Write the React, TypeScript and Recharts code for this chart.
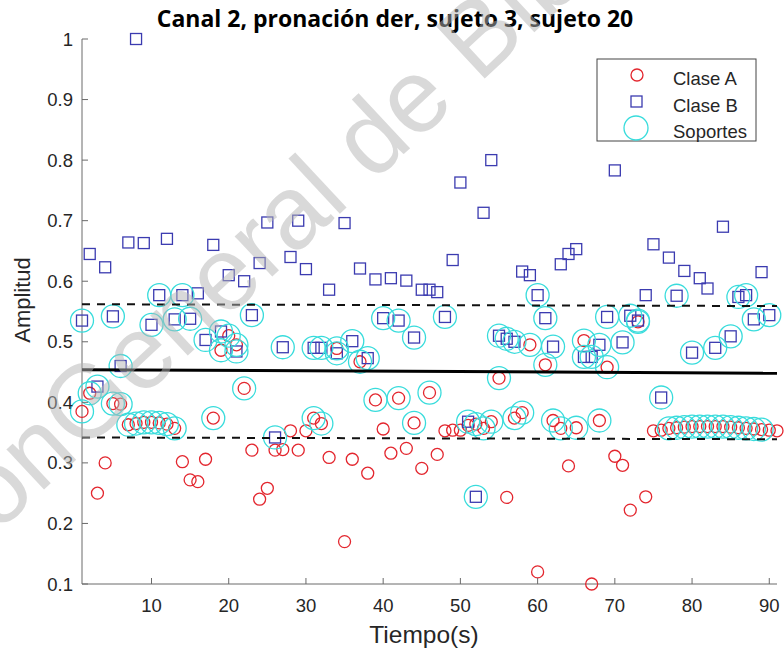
import React from 'react';
import { ScatterChart, Scatter, XAxis, YAxis } from 'recharts';

// ---------- data ----------
const tiempoA = [1,2,3,4,5,6,7,8,9,10,11,12,13,14,15,16,17,18,19,20,21,22,23,24,25,26,27,28,29,30,31,32,33,34,35,36,37,38,39,40,41,42,43,44,45,46,47,48,49,50,51,52,53,54,55,56,57,58,59,60,61,62,63,64,65,66,67,68,69,70,71,72,73,74,75,76,77,78,79,80,81,82,83,84,85,86,87,88,89,90,91];
const amplitudA = [0.385,0.415,0.250,0.300,0.398,0.397,0.363,0.365,0.367,0.367,0.366,0.364,0.357,0.302,0.272,0.269,0.306,0.374,0.486,0.510,0.495,0.423,0.321,0.240,0.258,0.321,0.322,0.353,0.321,0.353,0.374,0.365,0.309,0.489,0.170,0.306,0.467,0.283,0.404,0.356,0.316,0.407,0.324,0.366,0.291,0.416,0.314,0.353,0.354,0.354,0.362,0.364,0.357,0.368,0.440,0.243,0.374,0.383,0.495,0.120,0.462,0.370,0.357,0.295,0.358,0.502,0.100,0.370,0.458,0.311,0.296,0.222,0.533,0.244,0.353,0.354,0.357,0.358,0.359,0.360,0.360,0.360,0.360,0.360,0.359,0.358,0.357,0.356,0.355,0.354,0.353];

const tiempoB = [1,2,3,4,5,6,7,8,9,10,11,12,13,14,15,16,17,18,19,20,21,22,23,24,25,26,27,28,29,30,31,32,33,34,35,36,37,38,39,40,41,42,43,44,45,46,47,48,49,50,51,52,53,54,55,56,57,58,59,60,61,62,63,64,65,66,67,68,69,70,71,72,73,74,75,76,77,78,79,80,81,82,83,84,85,86,87,88,89,90];
const amplitudB = [0.535,0.645,0.426,0.623,0.542,0.460,0.664,1.000,0.663,0.528,0.577,0.670,0.537,0.577,0.538,0.580,0.503,0.660,0.517,0.610,0.484,0.600,0.544,0.630,0.697,0.342,0.491,0.640,0.700,0.620,0.490,0.490,0.586,0.481,0.696,0.501,0.621,0.473,0.603,0.539,0.605,0.535,0.601,0.507,0.586,0.586,0.582,0.541,0.635,0.763,0.368,0.244,0.713,0.800,0.510,0.505,0.500,0.616,0.610,0.577,0.539,0.492,0.628,0.645,0.653,0.475,0.475,0.495,0.541,0.783,0.499,0.543,0.535,0.577,0.661,0.408,0.639,0.576,0.617,0.482,0.605,0.588,0.490,0.690,0.509,0.574,0.577,0.537,0.615,0.544];

// times whose point is a support vector
const soportesTiempoA = [1,2,5,6,7,8,9,10,11,12,13,18,19,20,21,22,31,32,34,37,39,42,44,46,52,53,54,55,57,58,59,61,62,63,65,66,68,69,73,77,78,79,80,81,82,83,84,85,86,87,88,89];
const soportesTiempoB = [1,3,5,6,10,11,13,14,15,17,19,21,23,26,27,31,32,34,36,38,40,42,44,48,51,52,55,56,57,60,61,62,66,67,68,69,71,72,73,76,78,80,83,85,86,87,88,90];

// decision boundary and margins (ends at t = 1 and t = 91)
const lineaTiempo = [1, 91];
const lineaCentro = [0.454, 0.448];
const lineaSup = [0.562, 0.559];
const lineaInf = [0.342, 0.339];

const xTicks = [10, 20, 30, 40, 50, 60, 70, 80, 90];
const yTicks = [0.1, 0.2, 0.3, 0.4, 0.5, 0.6, 0.7, 0.8, 0.9, 1];

const legendItems = ['Clase A', 'Clase B', 'Soportes'];

// ---------- derived tables ----------
const claseA = tiempoA.map((x, i) => ({ x, y: amplitudA[i] }));
const claseB = tiempoB.map((x, i) => ({ x, y: amplitudB[i] }));
const soportes = [
  ...claseA.filter((p) => soportesTiempoA.includes(p.x)),
  ...claseB.filter((p) => soportesTiempoB.includes(p.x)),
];
const mkLine = (vals: number[]) => lineaTiempo.map((x, i) => ({ x, y: vals[i] }));
const centro = mkLine(lineaCentro);
const sup = mkLine(lineaSup);
const inf = mkLine(lineaInf);

// ---------- style ----------
const W = 784;
const H = 654;
const RED = '#e3262e';
const BLUE = '#3b3bb0';
const CYAN = '#38dcdc';
const AXIS = '#6a6a6a';
const TXT = '#262626';
const FONT = '"Liberation Sans", Arial, sans-serif';

const BottomTick = (p: any) => (
  <g>
    <line x1={p.x} y1={p.y} x2={p.x} y2={p.y - 6} stroke={AXIS} />
    <text x={p.x} y={p.y + 28} textAnchor="middle" fontSize={18.5} fontFamily={FONT} fill={TXT}>
      {p.payload.value}
    </text>
  </g>
);
const LeftTick = (p: any) => (
  <g>
    <line x1={p.x} y1={p.y} x2={p.x + 6} y2={p.y} stroke={AXIS} />
    <text x={p.x - 9} y={p.y + 6.5} textAnchor="end" fontSize={18.5} fontFamily={FONT} fill={TXT}>
      {p.payload.value === 1 ? '1' : Number(p.payload.value).toFixed(1)}
    </text>
  </g>
);
const TopTick = (p: any) => <line x1={p.x} y1={p.y} x2={p.x} y2={p.y + 6} stroke={AXIS} />;
const RightTick = (p: any) => <line x1={p.x} y1={p.y} x2={p.x - 6} y2={p.y} stroke={AXIS} />;

const RedCircle = (p: any) => (
  <circle cx={p.cx} cy={p.cy} r={6} fill="none" stroke={RED} strokeWidth={1.3} />
);
const BlueSquare = (p: any) => (
  <rect x={p.cx - 5.5} y={p.cy - 5.5} width={11} height={11} fill="none" stroke={BLUE} strokeWidth={1.3} />
);
const CyanCircle = (p: any) => (
  <circle cx={p.cx} cy={p.cy} r={11.5} fill="none" stroke={CYAN} strokeWidth={1.3} />
);
const NoShape = () => <g />;

export default function App() {
  return (
    <div style={{ position: 'absolute', left: 0, top: 0, width: W, height: H, background: '#fff' }}>
      <ScatterChart width={W} height={H} margin={{ top: 39, right: 7, bottom: 0, left: 0 }}>
        <XAxis
          dataKey="x"
          type="number"
          domain={[1, 91]}
          ticks={xTicks}
          interval={0}
          height={70}
          tickSize={0}
          tickMargin={0}
          tickLine={false}
          tick={<BottomTick />}
          axisLine={{ stroke: AXIS }}
        />
        <XAxis
          xAxisId="top"
          orientation="top"
          type="number"
          domain={[1, 91]}
          ticks={xTicks}
          interval={0}
          height={0}
          tickSize={0}
          tickMargin={0}
          tickLine={false}
          tick={<TopTick />}
          axisLine={{ stroke: AXIS }}
        />
        <YAxis
          dataKey="y"
          type="number"
          domain={[0.1, 1]}
          ticks={yTicks}
          interval={0}
          width={82}
          tickSize={0}
          tickMargin={0}
          tickLine={false}
          tick={<LeftTick />}
          axisLine={{ stroke: AXIS }}
        />
        <YAxis
          yAxisId="right"
          orientation="right"
          type="number"
          domain={[0.1, 1]}
          ticks={yTicks}
          interval={0}
          width={0}
          tickSize={0}
          tickMargin={0}
          tickLine={false}
          tick={<RightTick />}
          axisLine={{ stroke: AXIS }}
        />
        <Scatter name="Clase A" data={claseA} shape={RedCircle} isAnimationActive={false} />
        <Scatter name="Clase B" data={claseB} shape={BlueSquare} isAnimationActive={false} />
        <Scatter name="Soportes" data={soportes} shape={CyanCircle} isAnimationActive={false} />
        <Scatter data={sup} line={{ stroke: '#111', strokeWidth: 2, strokeDasharray: '8 7' }} shape={NoShape} legendType="none" isAnimationActive={false} />
        <Scatter data={inf} line={{ stroke: '#111', strokeWidth: 2, strokeDasharray: '8 7' }} shape={NoShape} legendType="none" isAnimationActive={false} />
        <Scatter data={centro} line={{ stroke: '#000', strokeWidth: 3 }} shape={NoShape} legendType="none" isAnimationActive={false} />
      </ScatterChart>

      {/* title, axis labels, legend, watermark */}
      <svg width={W} height={H} style={{ position: 'absolute', left: 0, top: 0, pointerEvents: 'none' }}>
        <text x={395} y={27} textAnchor="middle" fontSize={23} fontWeight="bold" fontFamily="'Open Sans', Lato, sans-serif" fill="#000">
          Canal 2, pronación der, sujeto 3, sujeto 20
        </text>
        <text x={424} y={643} textAnchor="middle" fontSize={24.5} fontFamily={FONT} fill={TXT}>
          Tiempo(s)
        </text>
        <text transform="translate(30,300) rotate(-90)" textAnchor="middle" fontSize={22} fontFamily={FONT} fill={TXT}>
          Amplitud
        </text>

        <rect x={597} y={59} width={159} height={82} fill="#fff" stroke="#444" strokeWidth={1} />
        <circle cx={637} cy={75} r={6} fill="none" stroke={RED} strokeWidth={1.3} />
        <rect x={631} y={96} width={11} height={11} fill="none" stroke={BLUE} strokeWidth={1.3} />
        <circle cx={636} cy={128} r={12} fill="none" stroke={CYAN} strokeWidth={1.3} />
        {legendItems.map((t, i) => (
          <text key={t} x={673} y={85 + i * 26.5} fontSize={18.5} fontFamily={FONT} fill={TXT}>
            {t}
          </text>
        ))}

        <g transform="translate(81,455) rotate(-43)" fill="#b4b4b4" fillOpacity={0.5} fontSize={104} fontFamily={FONT}>
          <text x={0} y={0} textAnchor="end">Dirección </text>
          <text x={0} y={0} textAnchor="start">General de Bibliotecas</text>
        </g>
      </svg>
    </div>
  );
}
